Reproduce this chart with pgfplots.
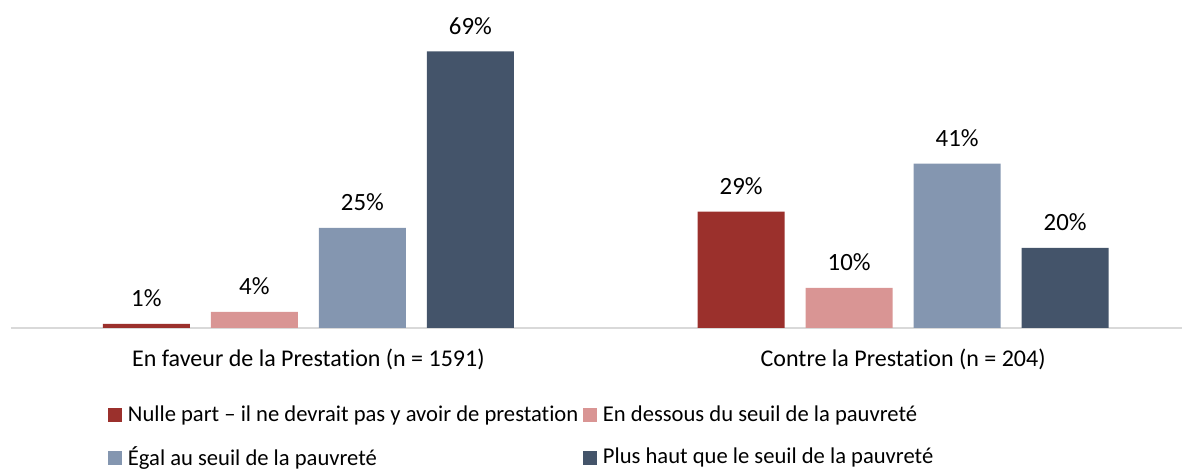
\documentclass[border=0pt]{standalone}
\usepackage{pgfplots}
\pgfplotsset{compat=1.18}
\usepackage{fontspec}
\setmainfont{Carlito}[Ligatures={NoCommon}]
\definecolor{cRed}{HTML}{9B302C}
\definecolor{cPink}{HTML}{D99594}
\definecolor{cLBlue}{HTML}{8496B0}
\definecolor{cDark}{HTML}{44546A}
\definecolor{cAxis}{HTML}{D9D9D9}
\pgfplotsset{sqlegend/.style={legend image code/.code={\fill[##1,draw=none] (0pt,-3.4pt) rectangle (6.8pt,3.4pt);}}}
\begin{document}
\fontsize{12pt}{14.4pt}\selectfont
\begin{tikzpicture}
\begin{axis}[
  at={(0,0)}, anchor=south west,
  scale only axis,
  width=585.5pt, height=164pt,
  xmin=-0.5, xmax=1.4689,
  ymin=0, ymax=81.8,
  enlargelimits=false,
  clip=false,
  ybar=10.5pt, bar width=43.5pt,
  axis y line=none,
  axis x line*=bottom,
  x axis line style={draw=cAxis, line width=0.8pt, -},
  xtick={0,1},
  xticklabels={En faveur de la Prestation (n = 1591), Contre la Prestation (n = 204)},
  major tick length=0pt,
  xticklabel style={font=\fontsize{12pt}{14.4pt}\selectfont, anchor=base, yshift=-19.5pt},
  /pgf/number format/assume math mode=true,
  every node near coord/.append style={font=\fontsize{12.4pt}{14.4pt}\selectfont, anchor=base, yshift=8.5pt, inner sep=0pt, text=black},
  nodes near coords={\pgfmathprintnumber{\pgfplotspointmeta}\%},
  legend columns=2,
  legend cell align=left,
  legend style={draw=none, fill=none, at={(rel axis cs:0.0828,0)}, anchor=north west, yshift=-36.5pt,
    font=\fontsize{11.3pt}{13.6pt}\selectfont, inner sep=0pt, row sep=7pt, column sep=1pt,
    /tikz/every even column/.append style={column sep=0.5pt}},
]
\addplot[sqlegend, fill=cRed, draw=none] coordinates {(0,1) (1,29)};
\addplot[sqlegend, fill=cPink, draw=none] coordinates {(0,4) (1,10)};
\addplot[sqlegend, fill=cLBlue, draw=none] coordinates {(0,25) (1,41)};
\addplot[sqlegend, fill=cDark, draw=none] coordinates {(0,69) (1,20)};
\legend{Nulle part – il ne devrait pas y avoir de prestation, En dessous du seuil de la pauvreté, Égal au seuil de la pauvreté, Plus haut que le seuil de la pauvreté}
\end{axis}
\pgfresetboundingbox
\useasboundingbox (-5.5pt,-70.5pt) rectangle (585.5pt,164pt);
\end{tikzpicture}
\end{document}
